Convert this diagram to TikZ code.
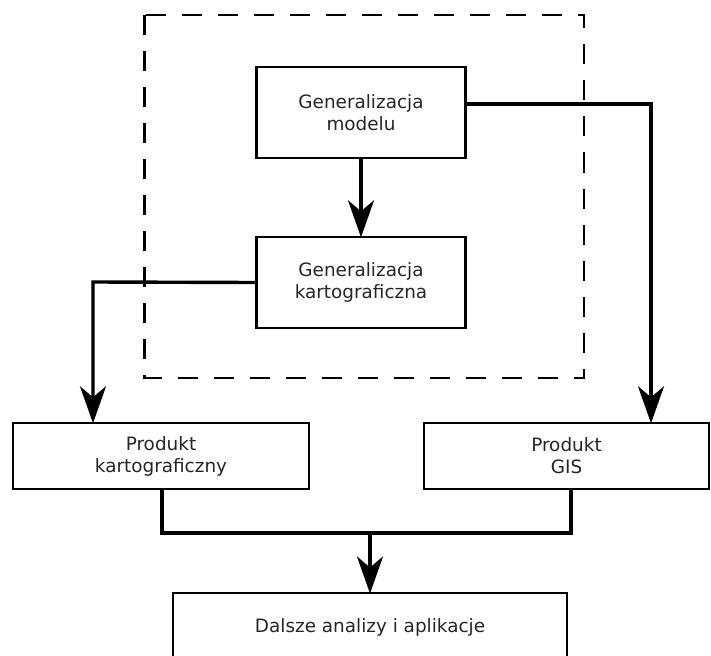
\documentclass[tikz,border=0pt]{standalone}
\usepackage{fontspec}
\setmainfont{DejaVu Sans}
\usetikzlibrary{arrows.meta}
\begin{document}
\begin{tikzpicture}[x=1pt,y=-1pt,
  box/.style={draw=black, line width=2.4pt, fill=white, align=center,
    inner sep=0pt, font=\fontsize{18.4}{22}\selectfont, text=black!85},
  flow/.style={line width=3.4pt, line join=miter},
  arrow/.style={flow, shorten >=-1.5pt,
    -{Stealth[length=37pt,width=26pt,inset=11pt]}},
  region/.style={line width=2.4pt, dash pattern=on 20pt off 16pt}]
  \useasboundingbox (0,0) rectangle (711,655);

  % processing stage enclosed by the dashed frame
  \draw[region] (144.5,15) rectangle (584,378);

  \node[box, minimum width=209pt, minimum height=91pt] (b1) at (361,112.5)
    {Generalizacja\\modelu};
  \node[box, minimum width=209pt, minimum height=91pt] (b2) at (361,282.5)
    {Generalizacja\\kartograficzna};
  \node[box, minimum width=296pt, minimum height=66pt] (b3) at (161,456)
    {Produkt\\kartograficzny};
  \node[box, minimum width=285pt, minimum height=66pt] (b4) at (566.5,456)
    {Produkt\\GIS};
  \node[box, minimum width=394pt, anchor=north, text height=39pt, text depth=60pt]
    (b5) at (370,592) {Dalsze analizy i aplikacje};

  % routing points
  \coordinate (r) at (651,104);
  \coordinate (l) at (93,282);
  \coordinate (jl) at (162,533);
  \coordinate (jr) at (571,533);
  \coordinate (jm) at (370,533);

  \draw[arrow] (b1.south) -- (b2.north);
  \draw[arrow] ([yshift=8.5pt]b1.east) -- (r) -- (r |- b4.north);
  \draw[arrow] (b2.west) -- (l) -- (l |- b3.north);
  \draw[flow] (jl |- b3.south) -- (jl) -- (jr) -- (jr |- b4.south);
  \draw[arrow] (jm) -- (b5.north);
\end{tikzpicture}
\end{document}
